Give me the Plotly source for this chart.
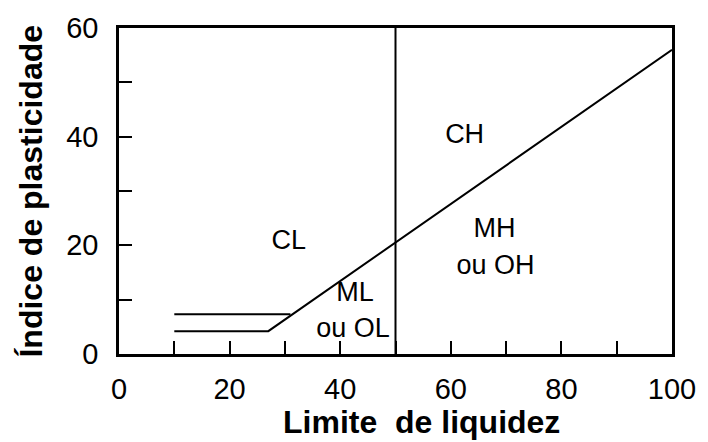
import plotly.graph_objects as go

# Data
lower_ll = [10, 27, 100]
lower_pi = [4.2, 4.2, 56]
upper_ll = [10, 31]
upper_pi = [7.3, 7.3]
vline_ll = [50, 50]
vline_pi = [0, 60]

zone_labels = ["CL", "CH", "MH", "ou OH", "ML", "ou OL"]
zone_ll = [30.7, 62.5, 67.9, 68.1, 42.7, 42.3]
zone_pi = [20.5, 40.0, 22.7, 16.0, 11.0, 4.3]

x_ticks = [0, 20, 40, 60, 80, 100]
y_ticks = [0, 20, 40, 60]

FONT = "Liberation Sans, Arial, sans-serif"

fig = go.Figure()
fig.add_trace(go.Scatter(x=lower_ll, y=lower_pi, mode="lines",
                         line=dict(color="black", width=2), hoverinfo="skip"))
fig.add_trace(go.Scatter(x=upper_ll, y=upper_pi, mode="lines",
                         line=dict(color="black", width=2), hoverinfo="skip"))
fig.add_trace(go.Scatter(x=vline_ll, y=vline_pi, mode="lines",
                         line=dict(color="black", width=2), hoverinfo="skip"))
fig.add_trace(go.Scatter(x=zone_ll, y=zone_pi, mode="text", text=zone_labels,
                         textposition="middle center",
                         textfont=dict(family=FONT, size=27, color="black"),
                         hoverinfo="skip"))

axis_common = dict(
    showgrid=False, zeroline=False, showline=True, linecolor="black",
    linewidth=2.5, mirror=True, ticks="inside", ticklen=13, tickwidth=1.5,
    tickcolor="black", tickfont=dict(family=FONT, size=29, color="black"),
)
fig.update_xaxes(range=[0, 100], tickvals=x_ticks, ticklabelstandoff=7,
                 minor=dict(dtick=10, tick0=0, ticks="inside", ticklen=13,
                            tickwidth=1.5, tickcolor="black"),
                 **axis_common)
fig.update_yaxes(range=[0, 60], tickvals=y_ticks, ticklabelstandoff=12,
                 minor=dict(dtick=10, tick0=0, ticks="inside", ticklen=13,
                            tickwidth=1.5, tickcolor="black"),
                 **axis_common)

fig.add_annotation(text="<b>Limite  de liquidez</b>", xref="paper", yref="paper",
                   x=0.547, y=-0.208, xanchor="center", yanchor="middle",
                   showarrow=False, font=dict(family=FONT, size=32, color="black"))
fig.add_annotation(text="<b>Índice de plasticidade</b>", xref="paper", yref="paper",
                   x=-0.16, y=0.5, xanchor="center", yanchor="middle", textangle=-90,
                   showarrow=False, font=dict(family=FONT, size=32, color="black"))

fig.update_layout(
    width=708, height=442, showlegend=False,
    margin=dict(l=119, r=34, t=21, b=88),
    plot_bgcolor="white", paper_bgcolor="white",
)
fig.write_html("out.html")
